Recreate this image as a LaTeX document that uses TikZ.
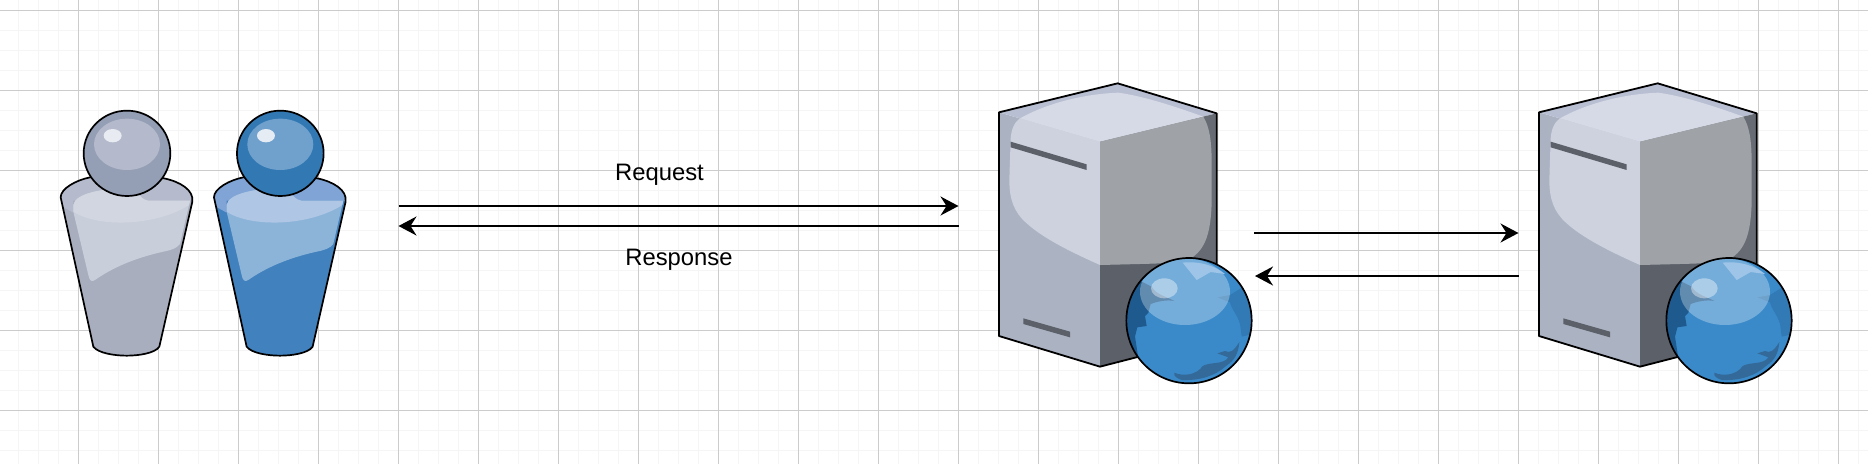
\documentclass[tikz,border=0pt]{standalone}
\usepackage{fontspec}
\setmainfont{Liberation Sans}
\usetikzlibrary{arrows.meta}
\tikzset{
  minorgrid/.style={draw=black!4,line width=1.8pt},
  majorgrid/.style={draw=black!20,line width=1.1pt},
  outline/.style={draw=black,line width=1.7pt,line join=round},
  flow/.style={draw=black,line width=2pt,-{Stealth[length=18pt,width=19pt,inset=6pt]}},
  lbl/.style={font=\fontsize{23.8pt}{26pt}\selectfont,inner sep=0pt,text=black},
  zoomed/.style={x=0.33333pt,y=-0.33333pt}
}
\definecolor{svLeft}{HTML}{ABB2C2}
\definecolor{svTop}{HTML}{B9BFD2}
\definecolor{svRight}{HTML}{676C74}
\definecolor{svLow}{HTML}{5C6068}
\definecolor{svLitL}{HTML}{CDD2DE}
\definecolor{svLitT}{HTML}{D6DAE6}
\definecolor{svLitR}{HTML}{9FA3A8}
\definecolor{gbBase}{HTML}{3A8ACA}
\definecolor{gbLand}{HTML}{1F5A8E}
\definecolor{gbRight}{HTML}{317AB5}
\definecolor{gbBottom}{HTML}{336A9A}
\definecolor{gbPatch}{HTML}{9EC5E8}
\definecolor{grHeadA}{HTML}{949EB5}
\definecolor{grHeadB}{HTML}{B4BACB}
\definecolor{grBodyA}{HTML}{A8AEBD}
\definecolor{grBodyB}{HTML}{B5BBCC}
\definecolor{grBodyC}{HTML}{C8CEDA}
\definecolor{grBodyD}{HTML}{D2D6E1}
\definecolor{grHi}{HTML}{E8EBF2}
\definecolor{blHeadA}{HTML}{3279B4}
\definecolor{blHeadB}{HTML}{70A0CC}
\definecolor{blBodyA}{HTML}{4181BD}
\definecolor{blBodyB}{HTML}{7FA4D5}
\definecolor{blBodyC}{HTML}{8CB4D9}
\definecolor{blBodyD}{HTML}{AFC6E5}
\definecolor{blHi}{HTML}{E5ECF4}
\newcommand{\personicon}[8]{%
 \begin{scope}[shift={(#1pt,-90pt)},zoomed]
  \def\bodypath{(150,262) .. controls (110,270) and (62,295) .. (62,322) -- (160,770) .. controls (175,790) and (225,797) .. (260,797) .. controls (295,797) and (345,790) .. (358,770) -- (457,335) .. controls (462,300) and (420,275) .. (372,265) -- cycle}
  \fill[#4] \bodypath;
  \begin{scope}
   \clip \bodypath;
   \fill[#5] (50,250) -- (470,250) -- (470,332) -- (100,332) -- (100,368) -- (50,340) -- cycle;
   \def\litpath{(100,345) .. controls (105,310) and (190,295) .. (260,295) -- (300,318) .. controls (310,328) and (318,332) .. (325,332) -- (450,332) -- (420,462) .. controls (410,475) and (395,480) .. (370,485) .. controls (280,505) and (215,535) .. (165,570) .. controls (155,577) and (148,572) .. (145,555) -- (100,365) -- cycle}
   \fill[#6] \litpath;
   \clip \litpath;
   \fill[#7] (100,365) .. controls (170,412) and (350,412) .. (455,340) -- (455,280) -- (90,280) -- cycle;
  \end{scope}
  \draw[outline] \bodypath;
  \fill[#2] (261,190) ellipse [x radius=130,y radius=128];
  \fill[#3] (261,163) ellipse [x radius=99,y radius=77];
  \fill[#8] (218,137) ellipse [x radius=27,y radius=20];
  \draw[outline] (261,190) ellipse [x radius=130,y radius=128];
 \end{scope}}
\newcommand{\servericon}[1]{%
 \begin{scope}[shift={(#1pt,-70pt)},zoomed]
  \fill[svLeft] (57,127) -- (360,215) -- (360,890) -- (57,798) -- cycle;
  \fill[svTop] (57,127) -- (413,40) -- (710,130) -- (360,215) -- cycle;
  \fill[svRight] (360,215) -- (710,130) -- (710,640) -- (360,585) -- cycle;
  \fill[svLow] (360,585) -- (710,575) -- (710,800) -- (360,890) -- cycle;
  \fill[svLitL] (120,145) -- (360,215) -- (360,585) .. controls (270,545) and (190,505) .. (140,460) .. controls (100,425) and (88,385) .. (88,330) -- (92,205) .. controls (94,175) and (105,155) .. (120,145) -- cycle;
  \fill[svLitT] (120,145) .. controls (200,100) and (310,72) .. (415,68) .. controls (500,80) and (600,115) .. (670,140) -- (360,215) -- cycle;
  \fill[svLitR] (360,215) -- (670,140) .. controls (688,170) and (695,210) .. (695,280) -- (695,400) .. controls (692,480) and (680,530) .. (640,560) .. controls (610,578) and (560,580) .. (480,582) -- (360,585) -- cycle;
  \fill[svLow] (92,215) -- (320,283) -- (320,300) -- (92,232) -- cycle;
  \fill[svLow] (130,745) -- (270,785) -- (270,802) -- (130,762) -- cycle;
  \draw[outline,line width=1.8pt] (57,127) -- (413,40) -- (710,130) -- (710,800) -- (360,890) -- (57,798) -- cycle;
  \begin{scope}
   \clip (627,752) circle [radius=188];
   \fill[gbBase] (627,752) circle [radius=188];
   \fill[gbLand] (475,630) -- (515,650) .. controls (530,675) and (560,680) .. (583,693) .. controls (560,688) and (530,695) .. (512,702) -- (505,728) -- (495,738) -- (500,768) -- (472,772) -- (465,800) -- (475,865) -- (420,800) -- (420,680) -- cycle;
   \fill[gbRight] (712,682) -- (750,675) -- (790,650) -- (830,690) -- (830,790) -- (785,800) -- (780,762) .. controls (770,730) and (755,720) .. (750,697) -- cycle;
   \fill[gbBottom] (583,908) .. controls (610,920) and (650,915) .. (668,888) .. controls (690,875) and (730,885) .. (745,862) -- (712,850) -- (735,843) .. controls (750,850) and (760,845) .. (778,816) .. controls (775,850) and (765,870) .. (738,888) .. controls (705,918) and (660,932) .. (605,930) .. controls (590,925) and (580,918) .. (583,908) -- cycle;
   \fill[white,opacity=.3] (615,665) ellipse [x radius=135,y radius=100];
   \fill[gbPatch] (608,578) -- (650,630) -- (692,606) -- (735,612) .. controls (710,590) and (660,572) .. (608,578) -- cycle;
   \fill[white,opacity=.4] (553,655) ellipse [x radius=40,y radius=30];
  \end{scope}
  \draw[outline] (627,752) circle [radius=188];
 \end{scope}}
\begin{document}
\begin{tikzpicture}[x=1pt,y=-1pt]
 \useasboundingbox (0,0) rectangle (1868,464);
 \fill[white] (0,0) rectangle (1868,464);
 \foreach \k in {0,...,93} {\draw[minorgrid] ({18.5+20*\k},0) -- ({18.5+20*\k},464);}
 \foreach \k in {0,...,23} {\draw[minorgrid] (0,{10.5+20*\k}) -- (1868,{10.5+20*\k});}
 \foreach \k in {0,...,22} {\draw[majorgrid] ({78.5+80*\k},0) -- ({78.5+80*\k},464);}
 \foreach \k in {0,...,5} {\draw[majorgrid] (0,{10.5+80*\k}) -- (1868,{10.5+80*\k});}
 % icons
 \personicon{40}{grHeadA}{grHeadB}{grBodyA}{grBodyB}{grBodyC}{grBodyD}{grHi}
 \personicon{193.3}{blHeadA}{blHeadB}{blBodyA}{blBodyB}{blBodyC}{blBodyD}{blHi}
 \servericon{980}
 \servericon{1520}
 % labels and connectors
 \node[lbl] (req) at (659.5,174.5) {Request};
 \node[lbl] (resp) at (679,260) {Response};
 \coordinate (a1) at (398.5,206);
 \coordinate (b1) at (958.5,206);
 \coordinate (a2) at (958.5,226);
 \coordinate (b2) at (398.5,226);
 \coordinate (c1) at (1254,233);
 \coordinate (d1) at (1518.5,233);
 \coordinate (c2) at (1518.5,276);
 \coordinate (d2) at (1255,276);
 \draw[flow] (a1) -- (b1);
 \draw[flow] (a2) -- (b2);
 \draw[flow] (c1) -- (d1);
 \draw[flow] (c2) -- (d2);
\end{tikzpicture}
\end{document}
